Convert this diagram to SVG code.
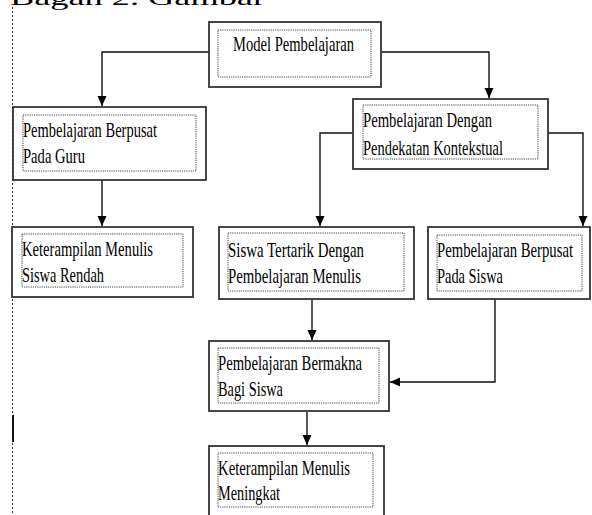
<svg xmlns="http://www.w3.org/2000/svg" width="592" height="515" viewBox="0 0 592 515">
<style>
.outer{fill:#fff;stroke:#333;stroke-width:1.8}
.inner{fill:none;stroke:#444;stroke-width:1;stroke-dasharray:1.2 1}
.t{font-family:"Liberation Serif","Times New Roman",serif;font-size:22px;fill:#000}
.c{fill:none;stroke:#111;stroke-width:1.4}
</style>
<defs>
<marker id="ah" markerUnits="userSpaceOnUse" markerWidth="10" markerHeight="10" refX="10" refY="4.5" orient="auto">
<path d="M0,0 L10,4.5 L0,9 z" fill="#000"/>
</marker>
</defs>
<rect width="592" height="515" fill="#fff"/>
<text class="t" x="10" y="5" font-size="30" textLength="255" lengthAdjust="spacingAndGlyphs" fill="#444">Bagan 2. Gambar</text>
<line x1="12.5" y1="7" x2="12.5" y2="515" stroke="#333" stroke-width="1" stroke-dasharray="2 2"/>
<line x1="13" y1="415" x2="13" y2="442" stroke="#111" stroke-width="2"/>
<g id="connectors">
<path class="c" d="M209,52 H102 V106" marker-end="url(#ah)"/>
<path class="c" d="M381,52 H489 V98" marker-end="url(#ah)"/>
<path class="c" d="M102,180 V226" marker-end="url(#ah)"/>
<path class="c" d="M353,133 H320 V226" marker-end="url(#ah)"/>
<path class="c" d="M548,133 H583 V226" marker-end="url(#ah)"/>
<path class="c" d="M312,299 V340" marker-end="url(#ah)"/>
<path class="c" d="M495,299 V382 H390" marker-end="url(#ah)"/>
<path class="c" d="M307,411 V445" marker-end="url(#ah)"/>
</g>
<g id="model">
<rect class="outer" x="209" y="22" width="172" height="65"/>
<rect class="inner" x="218" y="30" width="153" height="47"/>
<text class="t" x="233" y="51" textLength="121" lengthAdjust="spacingAndGlyphs">Model Pembelajaran</text>
</g>
<g id="guru">
<rect class="outer" x="13" y="107" width="193" height="73"/>
<rect class="inner" x="23" y="115" width="173" height="56"/>
<text class="t" x="23" y="137" textLength="134" lengthAdjust="spacingAndGlyphs">Pembelajaran Berpusat</text>
<text class="t" x="23" y="163" textLength="62" lengthAdjust="spacingAndGlyphs">Pada Guru</text>
</g>
<g id="kontekstual">
<rect class="outer" x="353" y="99" width="195" height="70"/>
<rect class="inner" x="363" y="105" width="175" height="54"/>
<text class="t" x="363" y="127" textLength="129" lengthAdjust="spacingAndGlyphs">Pembelajaran Dengan</text>
<text class="t" x="363" y="155" textLength="140" lengthAdjust="spacingAndGlyphs">Pendekatan Kontekstual</text>
</g>
<g id="rendah">
<rect class="outer" x="12" y="227" width="181" height="70"/>
<rect class="inner" x="22" y="234" width="161" height="53"/>
<text class="t" x="22" y="256" textLength="131" lengthAdjust="spacingAndGlyphs">Keterampilan Menulis</text>
<text class="t" x="22" y="282" textLength="82" lengthAdjust="spacingAndGlyphs">Siswa Rendah</text>
</g>
<g id="tertarik">
<rect class="outer" x="219" y="227" width="195" height="72"/>
<rect class="inner" x="228" y="233" width="176" height="58"/>
<text class="t" x="228" y="257" textLength="136" lengthAdjust="spacingAndGlyphs">Siswa Tertarik Dengan</text>
<text class="t" x="228" y="283" textLength="133" lengthAdjust="spacingAndGlyphs">Pembelajaran Menulis</text>
</g>
<g id="siswa">
<rect class="outer" x="428" y="227" width="162" height="72"/>
<rect class="inner" x="437" y="235" width="145" height="56"/>
<text class="t" x="437" y="257" textLength="136" lengthAdjust="spacingAndGlyphs">Pembelajaran Berpusat</text>
<text class="t" x="437" y="283" textLength="66" lengthAdjust="spacingAndGlyphs">Pada Siswa</text>
</g>
<g id="bermakna">
<rect class="outer" x="209" y="341" width="180" height="70"/>
<rect class="inner" x="218" y="348" width="161" height="55"/>
<text class="t" x="218" y="370" textLength="144" lengthAdjust="spacingAndGlyphs">Pembelajaran Bermakna</text>
<text class="t" x="218" y="396" textLength="65" lengthAdjust="spacingAndGlyphs">Bagi Siswa</text>
</g>
<g id="meningkat">
<rect class="outer" x="209" y="446" width="175" height="80"/>
<rect class="inner" x="218" y="453" width="155" height="54"/>
<text class="t" x="218" y="475" textLength="132" lengthAdjust="spacingAndGlyphs">Keterampilan Menulis</text>
<text class="t" x="218" y="500" textLength="62" lengthAdjust="spacingAndGlyphs">Meningkat</text>
</g>
</svg>
